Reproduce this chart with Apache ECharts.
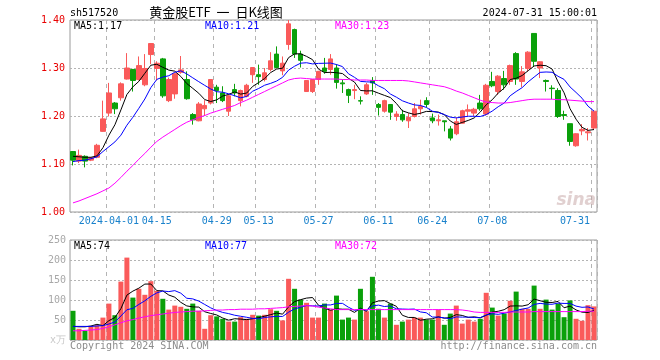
<!DOCTYPE html>
<html><head><meta charset="utf-8">
<script src="https://cdn.jsdelivr.net/npm/echarts@6/dist/echarts.min.js"></script>
<style>html,body{margin:0;padding:0;background:#fff}#c{width:660px;height:360px}</style>
</head><body><div id="c"></div>
<script>
const dates = ['2024-03-22','2024-03-25','2024-03-26','2024-03-27','2024-03-28','2024-03-29',
'2024-04-01','2024-04-02','2024-04-03','2024-04-08','2024-04-09','2024-04-10','2024-04-11','2024-04-12',
'2024-04-15','2024-04-16','2024-04-17','2024-04-18','2024-04-19','2024-04-22','2024-04-23','2024-04-24','2024-04-25','2024-04-26',
'2024-04-29','2024-04-30','2024-05-06','2024-05-07','2024-05-08','2024-05-09','2024-05-10',
'2024-05-13','2024-05-14','2024-05-15','2024-05-16','2024-05-17','2024-05-20','2024-05-21','2024-05-22','2024-05-23','2024-05-24',
'2024-05-27','2024-05-28','2024-05-29','2024-05-30','2024-05-31','2024-06-03','2024-06-04','2024-06-05','2024-06-06','2024-06-07',
'2024-06-11','2024-06-12','2024-06-13','2024-06-14','2024-06-17','2024-06-18','2024-06-19','2024-06-20','2024-06-21',
'2024-06-24','2024-06-25','2024-06-26','2024-06-27','2024-06-28','2024-07-01','2024-07-02','2024-07-03','2024-07-04','2024-07-05',
'2024-07-08','2024-07-09','2024-07-10','2024-07-11','2024-07-12','2024-07-15','2024-07-16','2024-07-17','2024-07-18','2024-07-19',
'2024-07-22','2024-07-23','2024-07-24','2024-07-25','2024-07-26','2024-07-29','2024-07-30','2024-07-31'];

const openP = [1.126,1.106,1.116,1.108,1.114,1.168,1.206,1.227,1.238,1.277,1.297,1.276,1.265,1.328,1.299,1.319,1.232,1.246,1.291,1.276,
1.203,1.190,1.215,1.227,1.260,1.248,1.210,1.255,1.232,1.241,1.286,1.286,1.276,1.297,1.329,1.294,1.349,1.380,1.329,1.251,
1.251,1.276,1.300,1.297,1.300,1.269,1.255,1.253,1.232,1.246,1.274,1.224,1.210,1.224,1.199,1.203,1.190,1.199,1.215,1.232,
1.196,1.190,1.190,1.173,1.163,1.185,1.210,1.206,1.227,1.204,1.272,1.251,1.278,1.272,1.330,1.272,1.299,1.372,1.300,1.274,
1.258,1.253,1.203,1.184,1.138,1.169,1.165,1.175];
const closeP = [1.108,1.118,1.106,1.113,1.139,1.194,1.248,1.215,1.267,1.300,1.274,1.305,1.299,1.351,1.310,1.242,1.276,1.288,1.296,1.236,
1.192,1.225,1.222,1.276,1.253,1.232,1.242,1.248,1.253,1.264,1.301,1.282,1.290,1.315,1.301,1.310,1.392,1.329,1.316,1.274,
1.276,1.293,1.293,1.319,1.270,1.267,1.243,1.255,1.231,1.265,1.269,1.218,1.232,1.208,1.204,1.192,1.197,1.215,1.220,1.224,
1.190,1.192,1.188,1.154,1.188,1.211,1.213,1.214,1.215,1.264,1.263,1.283,1.265,1.305,1.277,1.292,1.333,1.314,1.313,1.272,
1.257,1.199,1.201,1.147,1.163,1.172,1.167,1.210];
const highP = [1.127,1.130,1.118,1.114,1.142,1.232,1.269,1.229,1.270,1.331,1.298,1.324,1.329,1.352,1.314,1.321,1.280,1.290,1.325,1.293,
1.206,1.229,1.233,1.277,1.265,1.262,1.245,1.267,1.255,1.267,1.302,1.307,1.300,1.333,1.345,1.324,1.400,1.382,1.336,1.275,
1.277,1.294,1.321,1.329,1.308,1.276,1.257,1.265,1.241,1.269,1.281,1.227,1.234,1.225,1.210,1.213,1.206,1.227,1.234,1.239,
1.205,1.203,1.190,1.179,1.197,1.213,1.224,1.217,1.244,1.267,1.292,1.285,1.294,1.307,1.333,1.304,1.335,1.372,1.314,1.276,
1.264,1.258,1.211,1.184,1.164,1.183,1.175,1.211];
const lowP = [1.097,1.102,1.093,1.106,1.112,1.167,1.199,1.204,1.232,1.276,1.251,1.274,1.262,1.308,1.274,1.238,1.229,1.236,1.288,1.234,
1.182,1.189,1.200,1.224,1.227,1.229,1.200,1.241,1.220,1.239,1.269,1.265,1.272,1.293,1.299,1.285,1.338,1.321,1.301,1.250,
1.248,1.265,1.288,1.286,1.257,1.248,1.227,1.235,1.224,1.244,1.244,1.201,1.207,1.192,1.190,1.188,1.175,1.197,1.203,1.218,
1.185,1.180,1.168,1.149,1.160,1.184,1.200,1.200,1.211,1.201,1.260,1.244,1.255,1.265,1.265,1.260,1.293,1.303,1.279,1.251,
1.235,1.196,1.192,1.138,1.136,1.160,1.149,1.172];

// 成交量 (万手)
const volume = [73,28,23,35,37,56,91,62,146,206,106,128,113,147,123,103,76,86,83,78,
91,73,28,62,59,53,46,46,57,53,63,61,63,77,73,49,153,128,101,93,
56,56,91,76,111,51,56,51,128,72,158,78,56,91,38,46,51,56,56,51,
51,76,38,66,86,41,51,46,53,118,81,61,66,98,121,78,78,136,78,101,
76,91,57,99,53,48,87,84];

// Moving-average values before enough bars are on screen
const ma5Head = [1.116,1.115,1.114,1.114];
const ma10Head = [1.105,1.107,1.108,1.111,1.115,1.126,1.136,1.146,1.160];
const ma30 = [1.019,1.023,1.028,1.033,1.038,1.044,1.050,1.060,1.072,1.085,1.097,1.110,1.122,1.135,1.147,1.156,1.164,1.172,1.180,1.187,
1.192,1.197,1.201,1.206,1.210,1.214,1.218,1.222,1.228,1.233,1.239,1.245,1.251,1.257,1.263,1.269,1.275,1.278,1.279,1.278,
1.277,1.277,1.277,1.277,1.277,1.276,1.276,1.275,1.275,1.275,1.274,1.274,1.274,1.274,1.274,1.274,1.273,1.271,1.269,1.267,
1.265,1.263,1.261,1.257,1.252,1.248,1.243,1.238,1.233,1.229,1.228,1.227,1.227,1.228,1.230,1.232,1.234,1.235,1.235,1.235,
1.235,1.234,1.234,1.233,1.232,1.231,1.230,1.230];
const volMa5Head = [34,33,33,35];
const volMa10Head = [34,34,34,34,35,36,40,45,60];
const volMa30 = [23,23,24,25,26,29,33,38,43,48,51,55,58,61,63,65,67,69,70,71,
72,72,73,74,75,75,76,76,77,77,77,78,78,79,80,81,83,84,85,86,
85,82,80,78,76,76,76,76,76,76,76,76,76,76,76,76,76,76,76,76,
76,76,76,76,76,75,73,70,69,69,69,69,69,70,70,70,70,71,71,71,
71,71,71,71,71,71,72,72];

const tickDates = ['2024-04-01','2024-04-15','2024-04-29','2024-05-13','2024-05-27','2024-06-11','2024-06-24','2024-07-08','2024-07-31'];
const tickLabels = ['2024-04-01','04-15','04-29','05-13','05-27','06-11','06-24','07-08','07-31'];

const UP = '#fa5a5a', DOWN = '#0aa00a';
const MONO = '"DejaVu Sans Mono", "Liberation Mono", monospace';

function movingAvg(arr, n, head) {
  return arr.map((v, i) => {
    if (i < n - 1) return head[i];
    let s = 0; for (let k = i - n + 1; k <= i; k++) s += arr[k];
    return s / n;
  });
}
const ma5 = movingAvg(closeP, 5, ma5Head);
const ma10 = movingAvg(closeP, 10, ma10Head);
const volMa5 = movingAvg(volume, 5, volMa5Head);
const volMa10 = movingAvg(volume, 10, volMa10Head);

const tickIdx = tickDates.map(d => dates.indexOf(d));
const lastIdx = dates.length - 1;
const isTick = (i) => tickIdx.indexOf(i) >= 0;

const kData = dates.map((d, i) => [openP[i], closeP[i], lowP[i], highP[i]]);
const volData = volume.map((v, i) => ({ value: v, itemStyle: { color: closeP[i] >= openP[i] ? UP : DOWN } }));

const G = { left: 70, width: 527 };
const gridLineDash = { color: '#b4b4b4', type: [4, 4], width: 1 };
const dotted = { color: '#b4b4b4', type: [2, 2], width: 1 };

const chart = echarts.init(document.getElementById('c'), null, { renderer: 'canvas' });

function txt(x, y, text, fill, opts) {
  opts = opts || {};
  return {
    type: 'text', x: x, y: y, silent: true, z: 100,
    style: Object.assign({
      text: text, fill: fill, font: opts.font || ('10px ' + MONO),
      align: opts.align || 'left', textAlign: opts.align || 'left',
      verticalAlign: 'middle', textVerticalAlign: 'middle'
    }, opts.extra || {})
  };
}

const option = {
  animation: false,
  backgroundColor: '#ffffff',
  grid: [
    { left: G.left, width: G.width, top: 20, height: 192, show: true, borderColor: '#9a9a9a', borderWidth: 1, backgroundColor: 'transparent' },
    { left: G.left, width: G.width, top: 240, height: 100, show: true, borderColor: '#9a9a9a', borderWidth: 1, backgroundColor: 'transparent' }
  ],
  xAxis: [
    {
      type: 'category', gridIndex: 0, data: dates, boundaryGap: true,
      axisLine: { show: false }, axisTick: { show: false },
      axisLabel: {
        interval: (i) => isTick(i), margin: 4, fontFamily: MONO, fontSize: 10, color: '#1a82cc',
        formatter: (v, i) => {
          const k = tickIdx.indexOf(i);
          if (k < 0) return '';
          return i === lastIdx ? '{last|' + tickLabels[k] + '}' : tickLabels[k];
        },
        rich: { last: { fontFamily: MONO, fontSize: 10, color: '#1a82cc', padding: [0, 38, 0, 0] } }
      },
      splitLine: { show: true, interval: (i) => isTick(i), lineStyle: gridLineDash }
    },
    {
      type: 'category', gridIndex: 1, data: dates, boundaryGap: true,
      axisLine: { show: false }, axisTick: { show: false }, axisLabel: { show: false },
      splitLine: { show: true, interval: (i) => isTick(i), lineStyle: gridLineDash }
    }
  ],
  yAxis: [
    {
      type: 'value', gridIndex: 0, min: 1.0, max: 1.4, interval: 0.1, scale: false,
      axisLine: { show: false }, axisTick: { show: false },
      axisLabel: { margin: 5, fontFamily: MONO, fontSize: 10, color: '#e80000', formatter: (v) => v.toFixed(2) },
      splitLine: { show: true, lineStyle: dotted }
    },
    {
      type: 'value', gridIndex: 1, min: 0, max: 250, interval: 50,
      axisLine: { show: false }, axisTick: { show: false },
      axisLabel: {
        margin: 4, fontFamily: MONO, fontSize: 10, color: '#a8a8a8',
        formatter: (v) => v === 0 ? '{z|x万}' : String(v),
        rich: { z: { fontFamily: MONO, fontSize: 10, color: '#c8c8c8' } }
      },
      splitLine: { show: true, lineStyle: dotted }
    }
  ],
  series: [
    {
      type: 'candlestick', xAxisIndex: 0, yAxisIndex: 0, data: kData, barWidth: 5,
      itemStyle: { color: UP, color0: DOWN, borderColor: UP, borderColor0: DOWN, borderWidth: 1 }
    },
    { type: 'line', xAxisIndex: 0, yAxisIndex: 0, data: ma5, symbol: 'none', lineStyle: { color: '#000000', width: 1 }, z: 5 },
    { type: 'line', xAxisIndex: 0, yAxisIndex: 0, data: ma10, symbol: 'none', lineStyle: { color: '#0000ff', width: 1 }, z: 5 },
    { type: 'line', xAxisIndex: 0, yAxisIndex: 0, data: ma30, symbol: 'none', lineStyle: { color: '#ff00ff', width: 1 }, z: 5 },
    { type: 'bar', xAxisIndex: 1, yAxisIndex: 1, data: volData, barWidth: 5 },
    { type: 'line', xAxisIndex: 1, yAxisIndex: 1, data: volMa5, symbol: 'none', lineStyle: { color: '#000000', width: 1 }, z: 5 },
    { type: 'line', xAxisIndex: 1, yAxisIndex: 1, data: volMa10, symbol: 'none', lineStyle: { color: '#0000ff', width: 1 }, z: 5 },
    { type: 'line', xAxisIndex: 1, yAxisIndex: 1, data: volMa30, symbol: 'none', lineStyle: { color: '#ff00ff', width: 1 }, z: 5 }
  ],
  graphic: [
    txt(70, 13, 'sh517520', '#000000'),
    txt(216, 12, '黄金股ETF  一  日K线图', '#000000', { align: 'center', font: '13px "Noto Sans CJK SC", sans-serif' }),
    txt(597, 13, '2024-07-31 15:00:01', '#000000', { align: 'right' }),
    txt(74, 26, 'MA5:' + ma5[lastIdx].toFixed(2), '#000000'),
    txt(205, 26, 'MA10:' + ma10[lastIdx].toFixed(2), '#0000ff'),
    txt(335, 26, 'MA30:' + ma30[lastIdx].toFixed(2), '#ff00ff'),
    txt(74, 246, 'MA5:' + Math.round(volMa5[lastIdx]), '#000000'),
    txt(205, 246, 'MA10:' + Math.round(volMa10[lastIdx]), '#0000ff'),
    txt(335, 246, 'MA30:' + Math.round(volMa30[lastIdx]), '#ff00ff'),
    txt(70, 346, 'Copyright 2024 SINA.COM', '#8c8c8c'),
    txt(597, 346, 'http://finance.sina.com.cn', '#8c8c8c', { align: 'right' }),
    txt(596, 201, 'sina', 'rgba(200,170,170,0.55)', { align: 'right', font: 'italic bold 17px "DejaVu Sans", sans-serif' })
  ]
};
chart.setOption(option);
</script>
</body></html>
